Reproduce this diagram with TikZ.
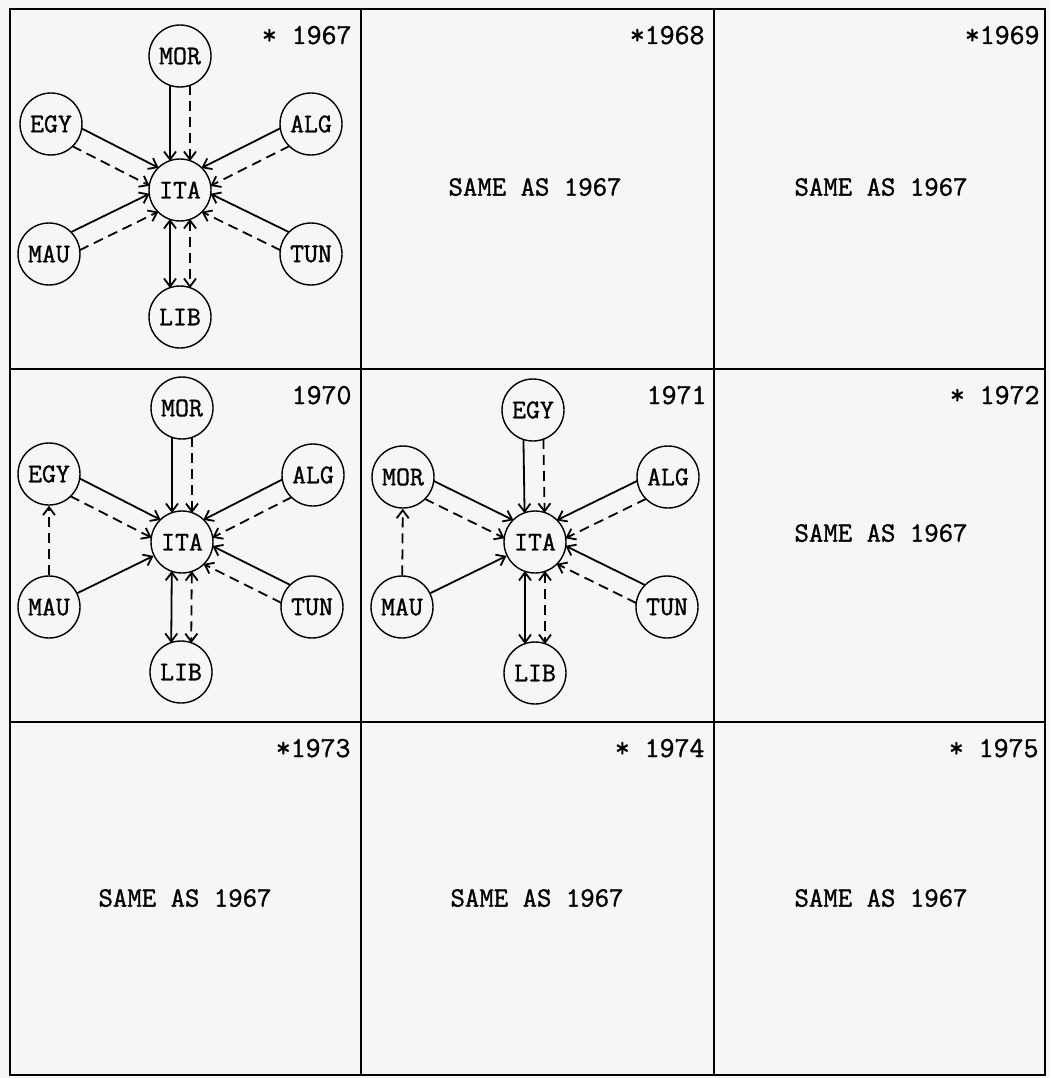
\documentclass[tikz,border=0pt]{standalone}
\usepackage{fontspec}
\newfontfamily\typed{Latin Modern Mono}[FakeBold=1.2]
\usepackage{tikz}
\usetikzlibrary{arrows.meta,calc}
\definecolor{paper}{RGB}{246,246,246}

\begin{document}
\begin{tikzpicture}[x=1pt, y=-1pt,
  land/.style={draw, circle, line width=1.4pt, minimum size=62pt, inner sep=0pt, font=\typed\fontsize{27}{27}\selectfont},
  tie/.style={line width=1.8pt, -{Straight Barb[length=8pt,width=12pt]}},
  both/.style={line width=1.8pt, {Straight Barb[length=8pt,width=12pt]}-{Straight Barb[length=8pt,width=12pt]}},
  dsh/.style={dash pattern=on 10pt off 6pt},
  side/.style={shorten <=29pt, shorten >=29pt,
    to path={($(\tikztostart)!#1!90:(\tikztotarget)$) -- ($(\tikztotarget)!#1!-90:(\tikztostart)$)}},
  year/.style={anchor=base east, font=\typed\fontsize{29}{29}\selectfont},
  same/.style={font=\typed\fontsize{28}{28}\selectfont},
]
\fill[paper] (0,0) rectangle (1050,1078);

% ===================== Grid of years =====================
\draw[line width=2.3pt] (10,9) rectangle (1045,1075);
\draw[line width=2.1pt] (361,9) -- (361,1075) (714,9) -- (714,1075);
\draw[line width=2.1pt] (10,369) -- (1045,369) (10,722) -- (1045,722);

\node[year] (y67) at (355,44) {* 1967};
\node[year] (y68) at (708,44) {*1968};
\node[year] (y69) at (1043,44) {*1969};
\node[year] (y70) at (355,404) {1970};
\node[year] (y71) at (710,404) {1971};
\node[year] (y72) at (1043,404) {* 1972};
\node[year] (y73) at (354,757) {*1973};
\node[year] (y74) at (708,757) {* 1974};
\node[year] (y75) at (1042,757) {* 1975};

\node[same] (s68) at (535,187) {SAME AS 1967};
\node[same] (s69) at (881,187) {SAME AS 1967};
\node[same] (s72) at (881,533) {SAME AS 1967};
\node[same] (s73) at (185,898) {SAME AS 1967};
\node[same] (s74) at (537,898) {SAME AS 1967};
\node[same] (s75) at (881,898) {SAME AS 1967};

% ===================== 1967 =====================
\begin{scope}[shift={(180,190)}]
\node[land] (ita67) at (0,0) {ITA};
\node[land] (mor67) at (0,-134) {MOR};
\node[land] (egy67) at (-129,-66) {EGY};
\node[land] (alg67) at (131,-66) {ALG};
\node[land] (mau67) at (-131,64) {MAU};
\node[land] (tun67) at (131,64) {TUN};
\node[land] (lib67) at (0,127) {LIB};

\draw[tie, side=-10pt] (mor67) to (ita67);
\draw[tie, dsh, side=10pt] (mor67) to (ita67);
\draw[tie, side=10pt] (egy67) to (ita67);
\draw[tie, dsh, side=-10pt] (egy67) to (ita67);
\draw[tie, side=-10pt] (alg67) to (ita67);
\draw[tie, dsh, side=10pt] (alg67) to (ita67);
\draw[tie, side=10pt] (mau67) to (ita67);
\draw[tie, dsh, side=-10pt] (mau67) to (ita67);
\draw[tie, side=-10pt] (tun67) to (ita67);
\draw[tie, dsh, side=10pt] (tun67) to (ita67);
\draw[both, side=-10pt] (ita67) to (lib67);
\draw[both, dsh, side=10pt] (ita67) to (lib67);
\end{scope}

% ===================== 1970 =====================
\begin{scope}[shift={(182,542)}]
\node[land] (ita70) at (0,0) {ITA};
\node[land] (mor70) at (0,-134) {MOR};
\node[land] (egy70) at (-133,-68) {EGY};
\node[land] (alg70) at (131,-67) {ALG};
\node[land] (mau70) at (-133,65) {MAU};
\node[land] (tun70) at (130,65) {TUN};
\node[land] (lib70) at (-1,130) {LIB};

\draw[tie, side=-10pt] (mor70) to (ita70);
\draw[tie, dsh, side=10pt] (mor70) to (ita70);
\draw[tie, side=10pt] (egy70) to (ita70);
\draw[tie, dsh, side=-10pt] (egy70) to (ita70);
\draw[tie, side=-10pt] (alg70) to (ita70);
\draw[tie, dsh, side=10pt] (alg70) to (ita70);
\draw[tie] (mau70) -- (ita70);
\draw[tie, dsh] (mau70) -- (egy70);
\draw[tie, side=-10pt] (tun70) to (ita70);
\draw[tie, dsh, side=10pt] (tun70) to (ita70);
\draw[both, side=-10pt] (ita70) to (lib70);
\draw[both, dsh, side=10pt] (ita70) to (lib70);
\end{scope}

% ===================== 1971 =====================
\begin{scope}[shift={(535,542)}]
\node[land] (ita71) at (0,0) {ITA};
\node[land] (egy71) at (-2,-132) {EGY};
\node[land] (mor71) at (-132,-65) {MOR};
\node[land] (alg71) at (133,-65) {ALG};
\node[land] (mau71) at (-133,65) {MAU};
\node[land] (tun71) at (132,65) {TUN};
\node[land] (lib71) at (0,131) {LIB};

\draw[tie, side=-10pt] (egy71) to (ita71);
\draw[tie, dsh, side=10pt] (egy71) to (ita71);
\draw[tie, side=10pt] (mor71) to (ita71);
\draw[tie, dsh, side=-10pt] (mor71) to (ita71);
\draw[tie, side=-10pt] (alg71) to (ita71);
\draw[tie, dsh, side=10pt] (alg71) to (ita71);
\draw[tie] (mau71) -- (ita71);
\draw[tie, dsh] (mau71) -- (mor71);
\draw[tie, side=-10pt] (tun71) to (ita71);
\draw[tie, dsh, side=10pt] (tun71) to (ita71);
\draw[both, side=-10pt] (ita71) to (lib71);
\draw[both, dsh, side=10pt] (ita71) to (lib71);
\end{scope}

\end{tikzpicture}
\end{document}
